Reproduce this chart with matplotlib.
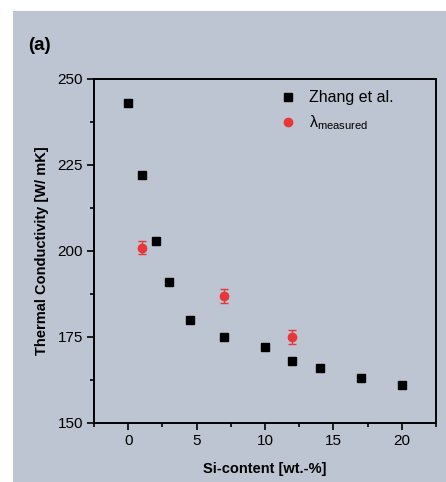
import matplotlib
matplotlib.use('Agg')
import matplotlib.pyplot as plt
from matplotlib.patches import Rectangle
from matplotlib.ticker import MultipleLocator

plt.rcParams['font.family'] = ['Liberation Sans', 'DejaVu Sans']

# Zhang et al. literature values
zhang_si = [0, 1, 2, 3, 4.5, 7, 10, 12, 14, 17, 20]
zhang_lambda = [243, 222, 203, 191, 180, 175, 172, 168, 166, 163, 161]

# measured values
meas_si = [1, 7, 12]
meas_lambda = [201, 187, 175]
meas_err = [2, 2, 2]

bg = '#bcc5d1'

fig = plt.figure(figsize=(4.46, 4.82), dpi=100)
fig.patch.set_facecolor('white')
fig.patches.append(Rectangle((13 / 446, 0), 1, 1 - 11 / 482, transform=fig.transFigure,
                             facecolor=bg, edgecolor='none', zorder=-10))

ax = fig.add_axes([94 / 446, 1 - 423 / 482, 342 / 446, 344 / 482])
ax.set_facecolor(bg)

ax.plot(zhang_si, zhang_lambda, 's', color='black', markersize=5.5, label='Zhang et al.')
ax.errorbar(meas_si, meas_lambda, yerr=meas_err, fmt='o', color='#e8363a',
            markersize=6, capsize=3, elinewidth=1, capthick=1,
            label='λ$_{\\mathregular{measured}}$')

ax.set_xlim(-2.5, 22.5)
ax.set_ylim(150, 250)
ax.xaxis.set_major_locator(MultipleLocator(5))
ax.xaxis.set_minor_locator(MultipleLocator(2.5))
ax.yaxis.set_major_locator(MultipleLocator(25))
ax.yaxis.set_minor_locator(MultipleLocator(12.5))
ax.tick_params(which='major', direction='out', length=5, width=1.2, labelsize=11, pad=3)
ax.tick_params(which='minor', direction='out', length=3, width=1.2)
for s in ax.spines.values():
    s.set_linewidth(1.4)

ax.set_xlabel('Si-content [wt.-%]', fontsize=10.5, fontweight='bold', labelpad=10)
ax.set_ylabel('Thermal Conductivity [W/ mK]', fontsize=10.5, fontweight='bold', labelpad=6)

handles, labels = ax.get_legend_handles_labels()
h2 = [handles[0], handles[1][0]]
leg = ax.legend(h2, labels, loc='upper right', frameon=False, fontsize=11.5,
                handletextpad=0.6, borderaxespad=0.3, handlelength=1.5,
                bbox_to_anchor=(0.91, 1.0))

fig.text(28 / 446, 1 - 46 / 482, '(a)', fontsize=13.5, fontweight='bold', va='center')

fig.savefig('out.png', dpi=100)
